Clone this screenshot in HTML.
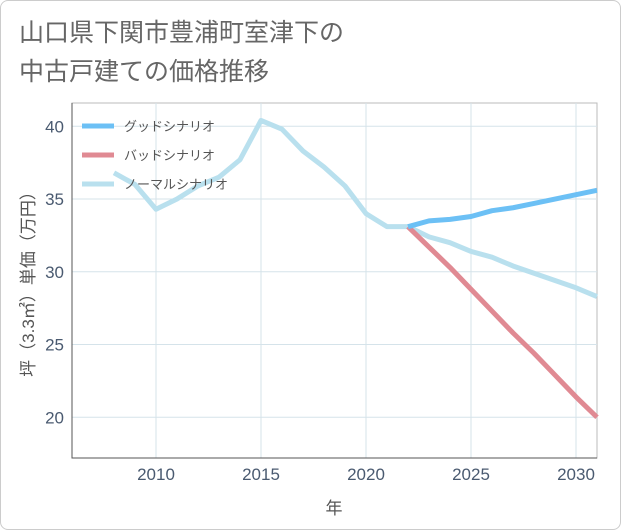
<!DOCTYPE html>
<html><head><meta charset="utf-8"><style>
body{margin:0;background:#fff;font-family:"Liberation Sans","Noto Sans CJK JP",sans-serif;}
#card{position:absolute;left:0;top:0;width:619px;height:528px;border:1px solid #ccc;border-radius:8px;background:#fff;}
</style></head><body>
<div id="card">
<svg id="chart" width="621" height="530" style="position:absolute;left:-1px;top:-1px">
<text x="19" y="41" font-size="25" fill="#666">山口県下関市豊浦町室津下の</text>
<text x="19" y="80" font-size="25" fill="#666">中古戸建ての価格推移</text>
<g id="grid"></g><g id="series"></g><g id="legend"></g>
<text x="334" y="514" font-size="17" fill="#555" text-anchor="middle">年</text>
<text transform="translate(34,280) rotate(-90)" font-size="17" fill="#555" text-anchor="middle">坪（3.3㎡）単価（万円）</text>
</svg></div>
<script>
const xTicks=[2010,2015,2020,2025,2030];
const yTicks=[20,25,30,35,40];
const normalYears=[2008,2009,2010,2011,2012,2013,2014,2015,2016,2017,2018,2019,2020,2021,2022,2023,2024,2025,2026,2027,2028,2029,2030,2031];
const normalVals=[36.8,36.0,34.3,35.0,35.9,36.5,37.7,40.4,39.8,38.3,37.2,35.9,34.0,33.1,33.1,32.4,32.0,31.4,31.0,30.4,29.9,29.4,28.9,28.3];
const futureYears=[2022,2023,2024,2025,2026,2027,2028,2029,2030,2031];
const goodVals=[33.1,33.5,33.6,33.8,34.2,34.4,34.7,35.0,35.3,35.6];
const badVals=[33.1,31.7,30.3,28.8,27.3,25.8,24.4,22.9,21.4,20.0];
const seriesNames=["グッドシナリオ","バッドシナリオ","ノーマルシナリオ"];
const colors=["#6cc0f5","#e08a93","#b9e0ee"];
const L=72,R=597,T=103,B=458,x0=2006,x1=2031,y0=17.2,y1=41.6;
const sx=v=>L+(v-x0)/(x1-x0)*(R-L), sy=v=>B-(v-y0)/(y1-y0)*(B-T);
const NS="http://www.w3.org/2000/svg";
function mk(t,a,p){const e=document.createElementNS(NS,t);for(const k in a)e.setAttribute(k,a[k]);p.appendChild(e);return e;}
const g=document.getElementById('grid');
const fr=mk('rect',{x:L,y:T,width:R-L,height:B-T,fill:'none',stroke:'#bbb','stroke-width':1},g);

xTicks.forEach(t=>{const l=mk('line',{x1:sx(t),x2:sx(t),y1:T,y2:B,stroke:'#d5e3ea'},g);

const tx=mk('text',{x:sx(t),y:B+22,'font-size':17,fill:'#4a5a70','text-anchor':'middle'},g);tx.textContent=t;
});
yTicks.forEach(t=>{const l=mk('line',{x1:L,x2:R,y1:sy(t),y2:sy(t),stroke:'#d5e3ea'},g);

const tx=mk('text',{x:L-8,y:sy(t)+6,'font-size':17,fill:'#4a5a70','text-anchor':'end'},g);tx.textContent=t;
});
const ax=mk('polyline',{points:`${L},${T} ${L},${B} ${R},${B}`,fill:'none',stroke:'#555','stroke-width':1},g);

const s=document.getElementById('series');
function line(xs,ys,c,name){const p=mk('polyline',{points:xs.map((x,i)=>sx(x)+','+sy(ys[i])).join(' '),fill:'none',stroke:c,'stroke-width':5,'stroke-linejoin':'round'},s);
}
line(normalYears,normalVals,colors[2],'normal-line');
line(futureYears,badVals,colors[1],'bad-line');
line(futureYears,goodVals,colors[0],'good-line');
const lg=document.getElementById('legend');
seriesNames.forEach((n,i)=>{const y=126+i*29;
const l=mk('line',{x1:82,x2:114,y1:y,y2:y,stroke:colors[i],'stroke-width':5},lg);

const t=mk('text',{x:124,y:y+5,'font-size':13,fill:'#555'},lg);t.textContent=n;
});
</script></body></html>
